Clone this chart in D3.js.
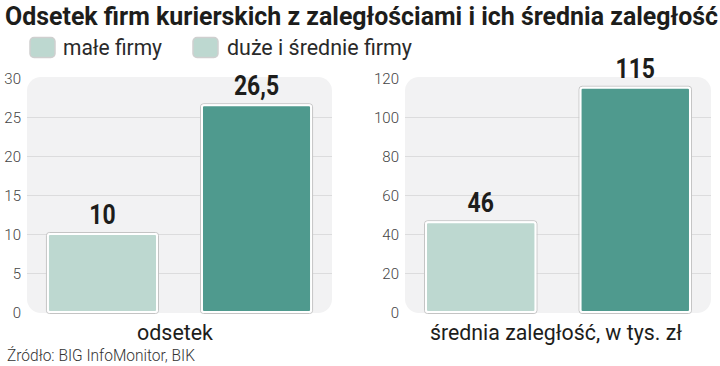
<!DOCTYPE html>
<html><head><meta charset="utf-8">
<script src="https://cdn.jsdelivr.net/npm/d3@7"></script>
<style>
body{margin:0;background:#fff;}
svg{display:block;font-family:Roboto,"Noto Sans",sans-serif;}
</style></head>
<body><svg id="c" width="720" height="366"></svg>
<script>
const title = "Odsetek firm kurierskich z zaległościami i ich średnia zaległość";
const seriesNames = ["małe firmy", "duże i średnie firmy"];
const panelLabels = ["odsetek", "średnia zaległość, w tys. zł"];
const odsetekValues = [10, 26.5];
const zaleglosciValues = [46, 115];
const odsetekTicks = [0, 5, 10, 15, 20, 25, 30];
const zaleglosciTicks = [0, 20, 40, 60, 80, 100, 120];
const source = "Źródło: BIG InfoMonitor, BIK";

const colors = ["#bdd8d0", "#4f9a8e"];
const fmt = v => String(v).replace(".", ",");
const svg = d3.select("#c");

svg.append("text").attr("x", 5).attr("y", 25)
  .attr("font-size", 25).attr("font-weight", 700).attr("fill", "#1d1d1b")
  .attr("textLength", 713).attr("lengthAdjust", "spacingAndGlyphs").text(title);

// legend
const legX = [30, 193], legTX = [63, 227], legTW = [99, 185];
seriesNames.forEach((s, i) => {
  svg.append("rect").attr("x", legX[i]).attr("y", 37.5).attr("width", 25).attr("height", 20)
    .attr("rx", 4).attr("fill", colors[0]).attr("stroke", "#cfcfcf").attr("stroke-width", 1.5);
  svg.append("text").attr("x", legTX[i]).attr("y", 55).attr("font-size", 22)
    .attr("font-weight", 400).attr("fill", "#2a2a2a")
    .attr("textLength", legTW[i]).attr("lengthAdjust", "spacingAndGlyphs").text(s);
});

function panel(values, ticks, x0, x1, label, labelX, labelW) {
  const y = d3.scaleLinear().domain([0, ticks[ticks.length - 1]]).range([312, 78]);
  const x = d3.scaleBand().domain(seriesNames).range([x0, x1]).paddingInner(0.292).paddingOuter(0.136);
  const g = svg.append("g");
  g.append("rect").attr("x", x0).attr("y", 77).attr("width", x1 - x0).attr("height", 236)
    .attr("rx", 14).attr("fill", "#f2f2f3");
  const ax = d3.axisLeft(y).tickValues(ticks).tickSize(-(x1 - x0)).tickPadding(6).tickFormat(d => d);
  const ag = g.append("g").attr("transform", `translate(${x0},0)`).call(ax);
  ag.select(".domain").remove();
  ag.selectAll(".tick line").attr("stroke", "#dcdcdd").attr("stroke-width", 1)
    .filter(d => d === 0 || d === ticks[ticks.length - 1]).remove();
  ag.selectAll(".tick text").attr("font-size", 15).attr("font-weight", 300).attr("fill", "#444")
    .attr("font-family", "Roboto").attr("dy", "0.36em").attr("x", -6);
  // bars
  g.selectAll(".bo").data(values).join("rect")
    .attr("x", (d, i) => x(seriesNames[i]) - 1.5).attr("y", d => y(d) - 1.5)
    .attr("width", x.bandwidth() + 3).attr("height", d => y(0) - y(d) + 3)
    .attr("rx", 3).attr("fill", "none").attr("stroke", "#c4c4c4").attr("stroke-width", 1);
  g.selectAll(".b").data(values).join("rect")
    .attr("x", (d, i) => x(seriesNames[i])).attr("y", d => y(d))
    .attr("width", x.bandwidth()).attr("height", d => y(0) - y(d))
    .attr("rx", 2).attr("fill", (d, i) => colors[i]).attr("stroke", "#fff").attr("stroke-width", 2);
  g.selectAll(".v").data(values).join("text")
    .attr("transform", (d, i) => `translate(${x(seriesNames[i]) + x.bandwidth() / 2},${y(d) - 10}) scale(0.85,1)`)
    .attr("text-anchor", "middle").attr("font-size", 27).attr("font-weight", 700).attr("fill", "#1d1d1b")
    .text(d => fmt(d));
  g.append("text").attr("x", labelX).attr("y", 340).attr("text-anchor", "middle")
    .attr("font-size", 22).attr("fill", "#1d1d1b")
    .attr("textLength", labelW).attr("lengthAdjust", "spacingAndGlyphs").text(label);
}
panel(odsetekValues, odsetekTicks, 27, 332, panelLabels[0], 175, 76);
panel(zaleglosciValues, zaleglosciTicks, 405, 711, panelLabels[1], 556, 252);

svg.append("text").attr("x", 7).attr("y", 361).attr("font-size", 16).attr("font-weight", 300)
  .attr("fill", "#333").attr("textLength", 188).attr("lengthAdjust", "spacingAndGlyphs").text(source);
</script></body></html>
